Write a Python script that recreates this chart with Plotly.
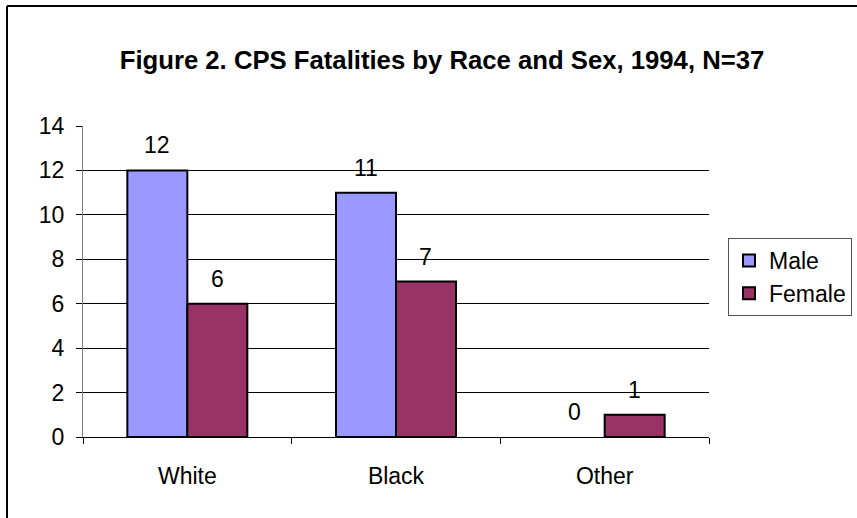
import plotly.graph_objects as go

categories = ["White", "Black", "Other"]
male = [12, 11, 0]
female = [6, 7, 1]
y_ticks = [0, 2, 4, 6, 8, 10, 12, 14]
title_text = "Figure 2. CPS Fatalities by Race and Sex, 1994, N=37"

W, H = 857, 518
L, R, T, B = 83, 148, 126, 81
pw, ph = W - L - R, H - T - B
FONT = "Liberation Sans, Arial, sans-serif"
FS = 23

fig = go.Figure()
fig.add_trace(go.Bar(name="Male", x=categories, y=male,
                     marker=dict(color="#9999FF",
                                 line=dict(color="black", width=[2 if v > 0 else 0 for v in male]))))
fig.add_trace(go.Bar(name="Female", x=categories, y=female,
                     marker=dict(color="#993366",
                                 line=dict(color="black", width=[2 if v > 0 else 0 for v in female]))))

annotations = []
bar_px = pw / 3 * (1 - 0.425) / 2
for series, shift in ((male, -bar_px / 2), (female, bar_px / 2)):
    for c, v in zip(categories, series):
        annotations.append(dict(x=c, y=v, xref="x", yref="y", text=str(v), showarrow=False,
                                xshift=shift, yshift=25, yanchor="middle",
                                font=dict(family=FONT, size=FS, color="black")))

def px_x(p):
    return (p - L) / pw

def px_y(p):
    return (H - B - p) / ph

shapes = [
    dict(type="line", xref="paper", yref="paper", x0=px_x(7), x1=px_x(W + 20),
         y0=px_y(6), y1=px_y(6), line=dict(color="black", width=2)),
    dict(type="line", xref="paper", yref="paper", x0=px_x(7), x1=px_x(7),
         y0=px_y(6), y1=px_y(H + 20), line=dict(color="black", width=2)),
]

fig.update_layout(
    width=W, height=H,
    margin=dict(l=L, r=R, t=T, b=B, autoexpand=False),
    paper_bgcolor="white", plot_bgcolor="white",
    barmode="group", bargap=0.425, bargroupgap=0,
    title=dict(text="<b>" + title_text + "</b>", xref="container", yref="container",
               x=442 / W, y=1 - 60 / H, xanchor="center", yanchor="middle",
               font=dict(family=FONT, size=25.7, color="black")),
    font=dict(family=FONT, size=FS, color="black"),
    showlegend=True,
    legend=dict(xref="container", yref="container", x=728 / W, y=1 - 277 / H,
                xanchor="left", yanchor="middle",
                bordercolor="#555555", borderwidth=1, bgcolor="white",
                font=dict(family=FONT, size=FS, color="black"),
                tracegroupgap=0, itemsizing="constant", itemwidth=30),
    annotations=annotations,
    shapes=shapes,
    xaxis=dict(showline=True, linecolor="black", linewidth=1, ticks="outside",
               tickson="boundaries", ticklen=6, tickcolor="black", showgrid=False,
               ticklabelstandoff=18, tickfont=dict(family=FONT, size=FS, color="black")),
    yaxis=dict(range=[0, 14], tickvals=y_ticks, showline=True, linecolor="#808080",
               linewidth=1, ticks="outside", ticklen=6, tickcolor="black",
               showgrid=True, gridcolor="black", gridwidth=1, zeroline=False,
               ticklabelstandoff=7, tickfont=dict(family=FONT, size=FS, color="black")),
)

fig.write_html("out.html", config={"displayModeBar": False},
               post_script="document.body.style.margin='0';document.body.style.overflow='hidden';")
